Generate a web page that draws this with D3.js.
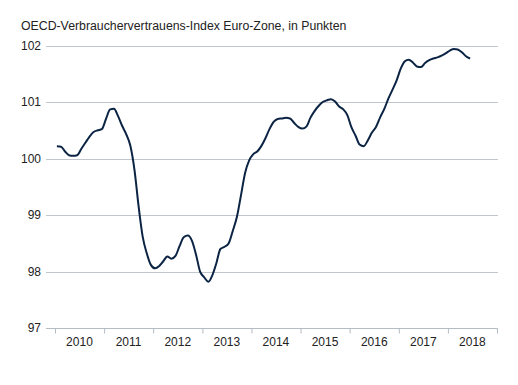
<!DOCTYPE html>
<html>
<head>
<meta charset="utf-8">
<script src="https://cdn.jsdelivr.net/npm/d3@7"></script>
<style>
  body { margin: 0; background: #fff; }
  svg { font-family: "Liberation Sans", Arial, sans-serif; }
</style>
</head>
<body>
<div id="chart"></div>
<script>
var title = "OECD-Verbrauchervertrauens-Index Euro-Zone, in Punkten"
var yearLabels = ["2010", "2011", "2012", "2013", "2014", "2015", "2016", "2017", "2018"]
var yTicks = [97, 98, 99, 100, 101, 102]
var startMonth = new Date(2010, 0, 1)

// monthly values, Jan 2010 - Jun 2018
var values = [
  100.22, 100.21, 100.13, 100.06, 100.05, 100.06, 100.17, 100.28, 100.39, 100.47, 100.50, 100.52,
  100.70, 100.87, 100.88, 100.75, 100.58, 100.43, 100.23, 99.80, 99.15, 98.62, 98.32, 98.12,
  98.06, 98.10, 98.18, 98.27, 98.23, 98.28, 98.45, 98.61, 98.64, 98.55, 98.30, 98.00,
  97.90, 97.82, 97.93, 98.15, 98.40, 98.44, 98.50, 98.72, 98.97, 99.35, 99.75, 99.97,
  100.08, 100.13, 100.22, 100.36, 100.52, 100.65, 100.70, 100.71, 100.72, 100.71, 100.63, 100.56,
  100.53, 100.57, 100.72, 100.84, 100.93, 101.00, 101.03, 101.05, 101.01, 100.92, 100.87, 100.77,
  100.55, 100.40, 100.25, 100.22, 100.32, 100.46, 100.56, 100.73, 100.88, 101.06, 101.22, 101.38,
  101.59, 101.72, 101.75, 101.70, 101.63, 101.62, 101.69, 101.74, 101.77, 101.79, 101.82, 101.86,
  101.91, 101.94, 101.93, 101.88, 101.81, 101.77
]

var width = 518
var height = 385

var svg = d3.select("#chart").append("svg")
  .attr("width", width)
  .attr("height", height)

svg.append("text")
  .attr("x", 21)
  .attr("y", 30)
  .attr("font-size", 12.3)
  .attr("fill", "#222")
  .text(title)

var x = d3.scaleTime()
  .domain([new Date(2010, 0, 1), new Date(2019, 0, 1)])
  .range([55, 497])

var y = d3.scaleLinear()
  .domain([97, 102])
  .range([328.2, 45.5])

var data = values.map(function(v, i) {
  return { date: new Date(startMonth.getFullYear(), startMonth.getMonth() + i, 15), value: v }
})

// gridlines
svg.append("g").selectAll("line")
  .data(yTicks)
  .enter()
  .append("line")
    .attr("x1", 46)
    .attr("x2", 498)
    .attr("y1", function(d) { return Math.round(y(d)) + 0.5 })
    .attr("y2", function(d) { return Math.round(y(d)) + 0.5 })
    .attr("stroke", function(d) { return d == 97 ? "#b4bcc4" : "#c0c6cc" })
    .attr("stroke-width", 1)

svg.append("g").selectAll("text")
  .data(yTicks)
  .enter()
  .append("text")
    .attr("x", 41)
    .attr("y", function(d) { return y(d) })
    .attr("dy", "0.35em")
    .attr("text-anchor", "end")
    .attr("font-size", 12)
    .attr("fill", "#222")
    .text(function(d) { return d })

// year ticks
var tickYears = d3.range(2010, 2020).map(function(yr) { return new Date(yr, 0, 1) })
var xTicks = svg.append("g")
  .attr("transform", "translate(0," + (Math.round(y(97)) + 0.5) + ")")
  .call(d3.axisBottom(x).tickValues(tickYears).tickSize(5).tickFormat(""))
xTicks.select(".domain").remove()
xTicks.selectAll("line").attr("stroke", "#b4bcc4")

// year labels centred in each year
svg.append("g").selectAll("text")
  .data(yearLabels)
  .enter()
  .append("text")
    .attr("x", function(d) { return x(new Date(+d, 6, 2)) })
    .attr("y", 346)
    .attr("text-anchor", "middle")
    .attr("font-size", 12)
    .attr("fill", "#222")
    .text(function(d) { return d })

var line = d3.line()
  .x(function(d) { return x(d.date) })
  .y(function(d) { return y(d.value) })
  .curve(d3.curveMonotoneX)

svg.append("path")
  .datum(data)
  .attr("d", line)
  .attr("fill", "none")
  .attr("stroke", "#0c2444")
  .attr("stroke-width", 2)
  .attr("stroke-linejoin", "round")
</script>
</body>
</html>
